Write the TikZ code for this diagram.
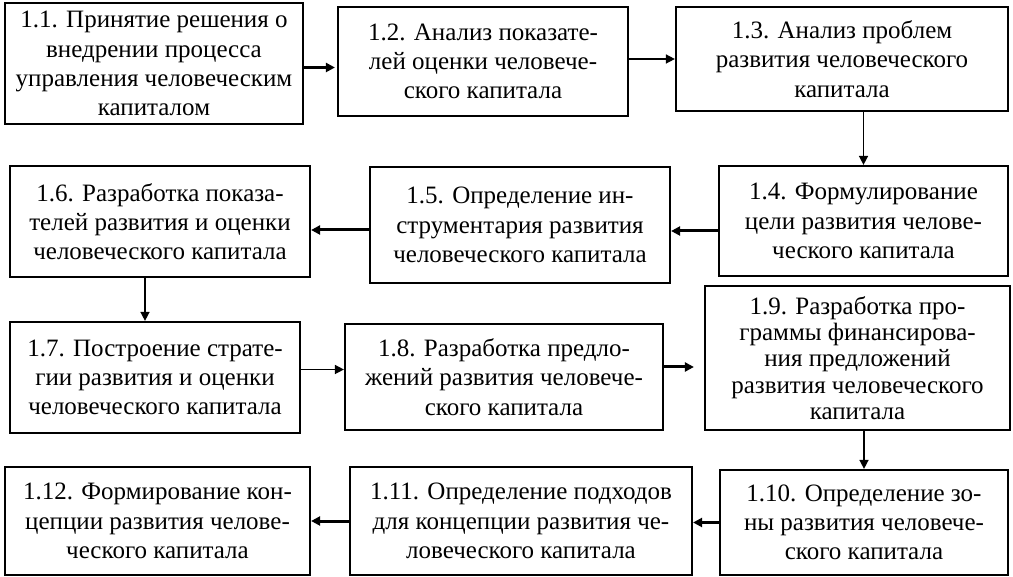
\documentclass[tikz,border=0pt]{standalone}
\usepackage{fontspec}
\setmainfont{Liberation Serif}
\usetikzlibrary{arrows.meta}

\begin{document}
\begin{tikzpicture}[x=0.5pt,y=-0.5pt,
  stage/.style={draw,line width=1.1pt,align=center,inner sep=1pt,font=\fontsize{12.5}{14.6}\selectfont},
  thinarr/.style={-{Triangle[length=4.5pt,width=4.5pt]},line width=0.75pt},
  thickarr/.style={-{Triangle[length=4.5pt,width=4.5pt]},line width=1.5pt}]
  \useasboundingbox (0,0) rectangle (1013,577);
  % first row
  \node[stage,minimum width=149pt,minimum height=60.5pt] (n11) at (154,63.5) {1.1. Принятие решения о\\внедрении процесса\\управления человеческим\\капиталом};
  \node[stage,minimum width=145pt,minimum height=54.5pt] (n12) at (483,61.5) {1.2. Анализ показате-\\лей оценки человече-\\ского капитала};
  \node[stage,minimum width=166pt,minimum height=52pt] (n13) at (842,59) {1.3. Анализ проблем\\развития человеческого\\капитала};
  % second row
  \node[stage,minimum width=144.5pt,minimum height=55pt] (n14) at (863.5,221) {1.4. Формулирование\\цели развития челове-\\ческого капитала};
  \node[stage,minimum width=150pt,minimum height=58pt] (n15) at (520,225) {1.5. Определение ин-\\струментария развития\\человеческого капитала};
  \node[stage,minimum width=150pt,minimum height=55.5pt] (n16) at (160,221.5) {1.6. Разработка показа-\\телей развития и оценки\\человеческого капитала};
  % third row
  \node[stage,minimum width=145pt,minimum height=55.5pt] (n17) at (155,377.5) {1.7. Построение страте-\\гии развития и оценки\\человеческого капитала};
  \node[stage,minimum width=159pt,minimum height=53pt] (n18) at (504,377) {1.8. Разработка предло-\\жений развития человече-\\ского капитала};
  \node[stage,minimum width=152.5pt,minimum height=72pt,font=\fontsize{12.5}{13.2}\selectfont] (n19) at (857.5,358) {1.9. Разработка про-\\граммы финансирова-\\ния предложений\\развития человеческого\\капитала};
  % fourth row
  \node[stage,minimum width=144pt,minimum height=52.5pt] (n110) at (864,522.5) {1.10. Определение зо-\\ны развития человече-\\ского капитала};
  \node[stage,minimum width=171pt,minimum height=54pt] (n111) at (521,521) {1.11. Определение подходов\\для концепции развития че-\\ловеческого капитала};
  \node[stage,minimum width=152.5pt,minimum height=54pt] (n112) at (157.5,521) {1.12. Формирование кон-\\цепции развития челове-\\ческого капитала};

  \draw[thickarr,shorten >=1pt] ([yshift=-2pt]n11.east) -- ([yshift=-2pt]n11.east -| n12.west);
  \draw[thinarr] (n12.east |- n13) -- (n13.west);
  \draw[thinarr] (n13.south -| n14) -- (n14.north);
  \draw[thickarr] ([yshift=-5pt]n14.west) -- ([yshift=-5pt]n14.west -| n15.east);
  \draw[thickarr] ([yshift=-2.5pt]n15.west) -- ([yshift=-2.5pt]n15.west -| n16.east);
  \draw[thinarr] ([xshift=-7.5pt]n16.south) -- ([xshift=-7.5pt]n16.south |- n17.north);
  \draw[thinarr] ([yshift=4pt]n17.east) -- ([yshift=4pt]n17.east -| n18.west);
  \draw[thickarr,shorten >=5pt] ([yshift=5pt]n18.east) -- ([yshift=5pt]n18.east -| n19.west);
  \draw[thinarr] (n19.south -| n110) -- (n110.north);
  \draw[thickarr] (n110.west) -- (n110.west -| n111.east);
  \draw[thickarr] (n111.west) -- (n111.west -| n112.east);
\end{tikzpicture}
\end{document}
